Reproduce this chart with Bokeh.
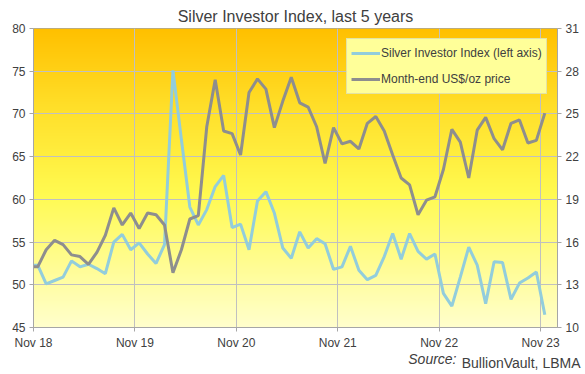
import numpy as np
import pandas as pd
from bokeh.plotting import figure
from bokeh.models import (Range1d, LinearAxis, FixedTicker, Legend, Title,
                          LegendItem, ColumnDataSource)
from bokeh.embed import file_html
from bokeh.resources import INLINE

# ---------------- data ----------------
months = [str(p) for p in pd.period_range("2018-10", "2023-11", freq="M")]

investor_index = [52.3,
                  52.3, 50.1, 50.5, 50.9, 52.8, 52.1, 52.4, 51.9, 51.3, 55.0,
                  55.9, 54.1, 54.9, 53.6, 52.5, 54.7, 75.1, 67.0, 59.1, 57.0,
                  58.8, 61.5, 62.8, 56.7, 57.1, 54.1, 59.8, 60.9, 58.4, 54.3,
                  53.1, 56.2, 54.3, 55.4, 54.8, 51.8, 52.1, 54.5, 51.7, 50.6,
                  51.1, 53.3, 56.0, 53.0, 56.0, 53.9, 53.0, 53.6, 49.0, 47.5,
                  50.9, 54.4, 52.3, 47.8, 52.7, 52.6, 48.3, 50.2, 50.8, 51.5,
                  46.5]

price_usd = [14.26,
             14.26, 15.46, 16.12, 15.82, 15.10, 14.98, 14.44, 15.28, 16.48, 18.40,
             17.20, 18.04, 16.96, 18.04, 17.92, 17.20, 13.84, 15.46, 17.62, 17.86,
             24.10, 27.40, 23.80, 23.62, 22.12, 26.50, 27.46, 26.74, 24.04, 25.90,
             27.58, 25.78, 25.48, 24.10, 21.52, 24.04, 22.90, 23.08, 22.54, 24.34,
             24.82, 23.80, 22.12, 20.50, 20.02, 17.92, 18.94, 19.18, 21.10, 23.92,
             23.02, 20.50, 23.86, 24.76, 23.26, 22.48, 24.34, 24.58, 22.96, 23.14,
             25.06]

x_tick_labels = ["Nov 18", "Nov 19", "Nov 20", "Nov 21", "Nov 22", "Nov 23"]
left_ticks = [45, 50, 55, 60, 65, 70, 75, 80]
right_ticks = [10, 13, 16, 19, 22, 25, 28, 31]

# month position measured from Nov 2018 (points sit mid-month)
def month_pos(m):
    y, mo = map(int, m.split("-"))
    return (y - 2018) * 12 + (mo - 11) + 0.5

src = ColumnDataSource(dict(x=[month_pos(m) for m in months],
                            idx=investor_index, px=price_usd))
x_ticks = [12 * i for i in range(len(x_tick_labels))]

# ---------------- figure ----------------
TXT = "#404040"
AX = "#A6A6A6"
FONT = "Liberation Sans"

p = figure(width=585, height=374, output_backend="svg", toolbar_location=None,
           x_range=Range1d(0, 62), y_range=Range1d(left_ticks[0], left_ticks[-1]),
           min_border_left=33, min_border_right=28, min_border_top=28,
           min_border_bottom=47)
p.extra_y_ranges = {"price": Range1d(right_ticks[0], right_ticks[-1])}
p.background_fill_color = "white"
p.border_fill_color = "white"
p.outline_line_color = AX

# title
p.title.text = "Silver Investor Index, last 5 years"
p.title.align = "center"
p.title.offset = 20
p.title.standoff = 7
p.title.text_font = FONT
p.title.text_font_size = "16px"
p.title.text_font_style = "normal"
p.title.text_color = TXT

# gradient background of the plot area
n = 300
f = np.linspace(0, 1, n)
stops_f = [0.0, 0.45, 0.75, 1.0]
stops_r = [255, 255, 255, 255]
stops_g = [255, 250, 222, 192]
stops_b = [205, 80, 40, 0]
img = np.empty((n, 1), dtype=np.uint32)
view = img.view(dtype=np.uint8).reshape((n, 1, 4))
view[:, 0, 0] = np.interp(f, stops_f, stops_r).astype(np.uint8)
view[:, 0, 1] = np.interp(f, stops_f, stops_g).astype(np.uint8)
view[:, 0, 2] = np.interp(f, stops_f, stops_b).astype(np.uint8)
view[:, 0, 3] = 255
p.image_rgba(image=[img], x=p.x_range.start, y=p.y_range.start,
             dw=p.x_range.end - p.x_range.start,
             dh=p.y_range.end - p.y_range.start, level="image")

r_idx = p.line("x", "idx", source=src, line_color="#92CDDC", line_width=3)
r_px = p.line("x", "px", source=src, y_range_name="price",
              line_color="#8E8E8E", line_width=3)

# axes
p.xaxis.ticker = FixedTicker(ticks=x_ticks)
p.xaxis.major_label_overrides = dict(zip(x_ticks, x_tick_labels))
p.yaxis.ticker = FixedTicker(ticks=left_ticks)
rax = LinearAxis(y_range_name="price", ticker=FixedTicker(ticks=right_ticks))
p.add_layout(rax, "right")

for ax in [p.xaxis[0], p.yaxis[0], rax]:
    ax.axis_line_color = AX
    ax.major_tick_line_color = AX
    ax.major_tick_out = 4
    ax.major_tick_in = 0
    ax.minor_tick_line_color = None
    ax.major_label_text_font = FONT
    ax.major_label_text_font_size = "12px"
    ax.major_label_text_color = TXT
    ax.major_label_standoff = 4

p.xgrid.grid_line_color = "#C0C0C0"
p.ygrid.grid_line_color = "#C0C0C0"

# legend
legend = Legend(items=[LegendItem(label="Silver Investor Index (left axis)", renderers=[r_idx]),
                       LegendItem(label="Month-end US$/oz price", renderers=[r_px])],
                location=(313, 233))
legend.background_fill_color = "#FFFF99"
legend.background_fill_alpha = 1
legend.border_line_color = "#C8C8B0"
legend.label_text_font = FONT
legend.label_text_font_size = "12px"
legend.label_text_color = TXT
legend.glyph_width = 29
legend.glyph_height = 20
legend.label_height = 20
legend.label_standoff = 1
legend.padding = 4
legend.spacing = 6
legend.margin = 0
p.add_layout(legend)

# source note: italic "Source:" then plain text on the same line
note_a = Title(text="Source:", align="right", offset=101, standoff=-3,
               vertical_align="top", text_font=FONT, text_font_size="14px",
               text_font_style="italic", text_color=TXT)
note_b = Title(text="BullionVault, LBMA", align="right", offset=-23, standoff=-26,
               vertical_align="top", text_font=FONT, text_font_size="14px",
               text_font_style="normal", text_color=TXT)
p.add_layout(note_a, "below")
p.add_layout(note_b, "below")

open("out.html", "w").write(file_html(p, INLINE))
